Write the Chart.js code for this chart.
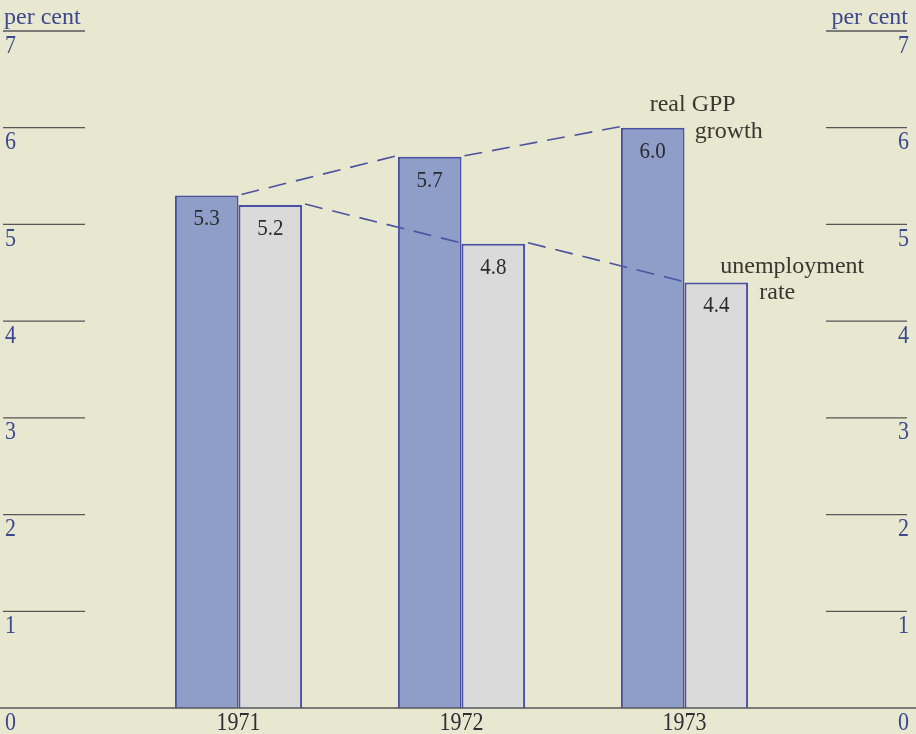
<!DOCTYPE html>
<html>
<head>
<meta charset="utf-8">
<script src="https://cdn.jsdelivr.net/npm/chart.js@4"></script>
<style>
  html, body { margin: 0; padding: 0; background: #e8e7cf; }
  #wrap { width: 916px; height: 734px; }
</style>
</head>
<body>
<div id="wrap"><canvas id="chart"></canvas></div>
<script>
// chart data
const years = ['1971', '1972', '1973'];
const gppGrowth = [5.3, 5.7, 6.0];
const unemployment = [5.2, 4.8, 4.4];
const yTicks = [0, 1, 2, 3, 4, 5, 6, 7];
const unitLabel = 'per cent';

const SERIF = '"Liberation Serif", "DejaVu Serif", serif';
const axisBlue = '#3b4a8e';
const lineGrey = '#55575a';

// the old typeface is tall and narrow, so stretch the text a bit vertically
function tallText(ctx, txt, x, y, sy) {
    ctx.save();
    ctx.translate(x, y);
    ctx.scale(1, sy);
    ctx.fillText(txt, 0, 0);
    ctx.restore();
}

// axes, dashed connector lines and notes drawn on the canvas
const decorations = {
    id: 'decorations',
    afterDatasetsDraw(chart) {
        const ctx = chart.ctx;
        const y = chart.scales.y;
        const x = chart.scales.x;
        const W = chart.width;
        ctx.save();

        // tick lines + labels, left and right
        ctx.font = '22px ' + SERIF;
        ctx.fillStyle = axisBlue;
        ctx.strokeStyle = lineGrey;
        ctx.lineWidth = 1.3;
        ctx.textBaseline = 'top';
        yTicks.forEach(v => {
            const py = y.getPixelForValue(v);
            if (v > 0) {
                ctx.beginPath();
                ctx.moveTo(3, py); ctx.lineTo(85, py);
                ctx.moveTo(826, py); ctx.lineTo(907, py);
                ctx.stroke();
            }
            ctx.textAlign = 'left';
            tallText(ctx, String(v), 5, py + 2, 1.17);
            ctx.textAlign = 'right';
            tallText(ctx, String(v), 909, py + 2, 1.17);
        });

        // baseline across the whole width
        const py0 = y.getPixelForValue(0);
        ctx.beginPath();
        ctx.lineWidth = 1.5;
        ctx.moveTo(0, py0); ctx.lineTo(W, py0);
        ctx.stroke();

        // unit labels
        ctx.font = '24px ' + SERIF;
        ctx.textBaseline = 'alphabetic';
        ctx.textAlign = 'left';
        ctx.fillText(unitLabel, 4, 24);
        ctx.textAlign = 'right';
        ctx.fillText(unitLabel, 908, 24);

        // year labels
        ctx.font = '22px ' + SERIF;
        ctx.fillStyle = '#2e2e34';
        ctx.textAlign = 'center';
        ctx.textBaseline = 'top';
        years.forEach((yr, i) => {
            tallText(ctx, yr, x.getPixelForValue(i), py0 + 2, 1.17);
        });

        // dashed lines between bar tops
        ctx.setLineDash([18, 10]);
        ctx.strokeStyle = '#4b52a0';
        ctx.lineWidth = 1.6;
        [0, 1].forEach(ds => {
            const bars = chart.getDatasetMeta(ds).data;
            ctx.beginPath();
            for (let i = 0; i < bars.length - 1; i++) {
                const a = bars[i], b = bars[i + 1];
                ctx.moveTo(a.x + a.width / 2 + 3, a.y - 1);
                ctx.lineTo(b.x - b.width / 2 - 1, b.y - 1);
            }
            ctx.stroke();
        });
        ctx.setLineDash([]);

        // values inside bars
        ctx.font = '21px ' + SERIF;
        ctx.fillStyle = '#2b2b2b';
        ctx.textAlign = 'center';
        ctx.textBaseline = 'middle';
        [0, 1].forEach(ds => {
            const meta = chart.getDatasetMeta(ds);
            meta.data.forEach((bar, i) => {
                const val = chart.data.datasets[ds].data[i];
                tallText(ctx, val.toFixed(1), bar.x, bar.y + 24, 1.08);
            });
        });

        // series notes next to the 1973 bars
        ctx.font = '24px ' + SERIF;
        ctx.fillStyle = '#3a3632';
        const g = chart.getDatasetMeta(0).data[2];
        const u = chart.getDatasetMeta(1).data[2];
        ctx.fillText('real GPP', g.x + 40, g.y - 23);
        ctx.fillText('growth', g.x + 76, g.y + 4);
        ctx.fillText('unemployment', u.x + 76, u.y - 16);
        ctx.fillText('rate', u.x + 61, u.y + 10);

        ctx.restore();
    }
};

new Chart(document.getElementById('chart'), {
    type: 'bar',
    data: {
        labels: years,
        datasets: [
            {
                label: 'real GPP growth',
                data: gppGrowth,
                backgroundColor: '#8e9ec9',
                borderColor: '#4a50a6',
                borderWidth: 2,
                borderSkipped: 'bottom'
            },
            {
                label: 'unemployment rate',
                data: unemployment,
                backgroundColor: '#d9dad9',
                borderColor: '#4a50a6',
                borderWidth: 2,
                borderSkipped: 'bottom'
            }
        ]
    },
    options: {
        responsive: true,
        maintainAspectRatio: false,
        animation: false,
        layout: { padding: { left: 127, right: 120, top: 31, bottom: 26 } },
        datasets: { bar: { barPercentage: 1, categoryPercentage: 0.57 } },
        plugins: { legend: { display: false }, tooltip: { enabled: false } },
        scales: {
            x: { display: false },
            y: { display: false, min: 0, max: 7 }
        }
    },
    plugins: [decorations]
});
</script>
</body>
</html>
